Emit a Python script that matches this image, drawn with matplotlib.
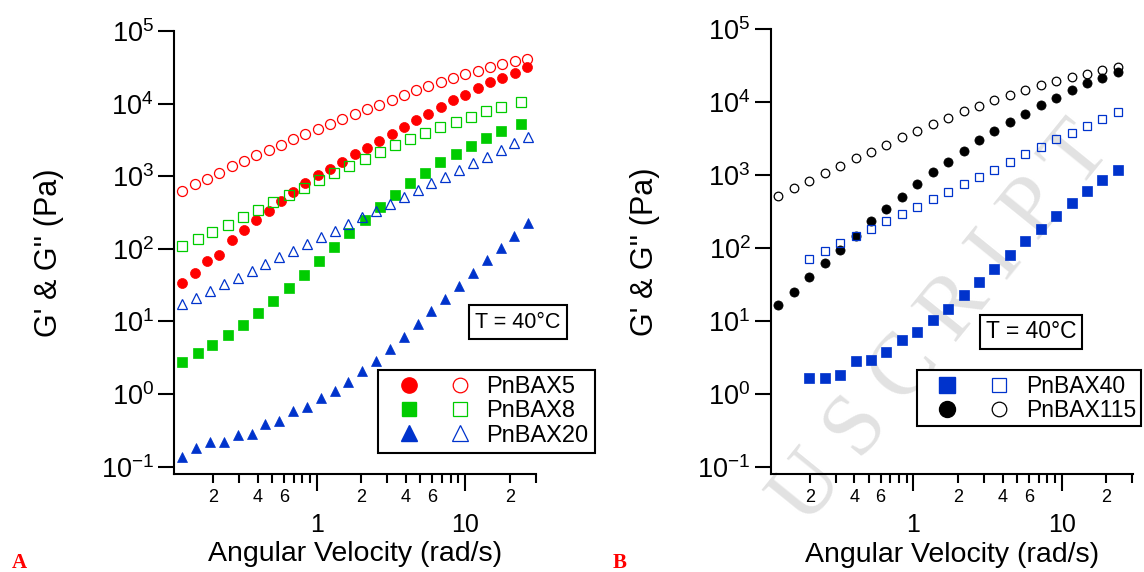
import matplotlib
matplotlib.use('Agg')
import matplotlib.pyplot as plt
from matplotlib.lines import Line2D
from matplotlib.legend_handler import HandlerTuple
from matplotlib.ticker import FixedLocator, FixedFormatter, NullLocator

# ---------------- data ----------------
# Panel A
w_bax5 = [0.124, 0.150, 0.182, 0.220, 0.267, 0.323, 0.391, 0.473, 0.573, 0.693,
          0.839, 1.016, 1.23, 1.49, 1.80, 2.18, 2.64, 3.20, 3.87, 4.69,
          5.67, 6.87, 8.31, 10.06, 12.18, 14.75, 17.85, 21.61, 26.16]
gp_bax5 = [33.7, 46.2, 69.0, 82.6, 133, 182, 251, 337, 458, 608,
           802, 1033, 1262, 1592, 2009, 2477, 3097, 3784, 4775, 5957,
           7278, 8995, 11120, 13300, 16260, 19680, 22800, 26730, 31990]
gpp_bax5 = [635, 776, 929, 1122, 1374, 1607, 1945, 2301, 2729, 3266,
            3864, 4529, 5200, 6152, 7129, 8531, 9683, 11220, 13150, 15420,
            17500, 19860, 22540, 25350, 28440, 31620, 34750, 38280, 41210]

w_bax8 = [0.124, 0.157, 0.198, 0.251, 0.318, 0.402, 0.509, 0.645, 0.816, 1.033,
          1.31, 1.66, 2.10, 2.65, 3.36, 4.25, 5.38, 6.81, 8.63, 10.93,
          13.83, 17.51, 23.71]
gp_bax8 = [2.76, 3.67, 4.78, 6.50, 9.02, 12.9, 19.1, 28.6, 43.6, 67.3,
           107, 163, 249, 377, 556, 798, 1117, 1552, 2042, 2630,
           3388, 4236, 5236]
gpp_bax8 = [108, 136, 171, 216, 273, 348, 439, 560, 698, 881,
            1112, 1403, 1750, 2138, 2673, 3266, 3945, 4775, 5649, 6622,
            7834, 9099, 10540]

w_bax20 = [0.124, 0.154, 0.191, 0.237, 0.293, 0.364, 0.451, 0.559, 0.693, 0.859,
           1.064, 1.318, 1.636, 2.028, 2.512, 3.116, 3.863, 4.786, 5.934, 7.357,
           9.12, 11.30, 14.02, 17.38, 21.54, 26.71]
gp_bax20 = [0.137, 0.180, 0.220, 0.220, 0.272, 0.281, 0.386, 0.429, 0.577, 0.656,
            0.873, 1.10, 1.46, 2.05, 2.88, 4.21, 6.15, 9.20, 13.8, 20.6,
            31.0, 46.5, 70.1, 104, 150, 224]
gpp_bax20 = [17.4, 21.0, 26.0, 32.4, 40.3, 49.8, 61.8, 76.4, 93.8, 117,
             144, 177, 220, 272, 335, 414, 522, 646, 798, 984,
             1216, 1507, 1858, 2296, 2838, 3436]

# Panel B
w_bax115 = [0.123, 0.156, 0.199, 0.252, 0.321, 0.407, 0.518, 0.658, 0.836, 1.062,
            1.349, 1.714, 2.178, 2.767, 3.516, 4.467, 5.675, 7.211, 9.162, 11.64,
            14.79, 18.79, 23.88]
gp_bax115 = [16.3, 25.3, 39.4, 61.9, 94.4, 147, 231, 344, 508, 759,
             1094, 1535, 2148, 3006, 4036, 5420, 6966, 9057, 11560, 14550,
             18160, 21730, 25700]
gpp_bax115 = [519, 661, 841, 1062, 1352, 1702, 2080, 2624, 3304, 4083,
              5035, 6152, 7516, 8892, 10740, 12560, 14720, 17060, 19540, 21980,
              24660, 27670, 30760]

w_bax40 = [0.199, 0.252, 0.321, 0.407, 0.518, 0.658, 0.836, 1.062,
           1.349, 1.714, 2.178, 2.767, 3.516, 4.467, 5.675, 7.211, 9.162, 11.64,
           14.79, 18.79, 23.88]
gp_bax40 = [1.63, 1.63, 1.81, 2.84, 2.93, 3.78, 5.40, 6.95, 10.4, 14.7,
            22.5, 34.0, 52.2, 79.6, 123, 185, 279, 420, 607, 867, 1191]
gpp_bax40 = [71.0, 91.4, 116, 147, 181, 231, 290, 370, 467, 594,
             759, 955, 1191, 1503, 1932, 2460, 3105, 3828, 4732, 5902, 7362]

x_major = [1, 10]
x_major_labels = ['1', '10']
x_minor = [0.2, 0.3, 0.4, 0.5, 0.6, 0.7, 0.8, 0.9, 2, 3, 4, 5, 6, 7, 8, 9, 20, 30]
x_minor_labels = ['2', '', '4', '', '6', '', '', '', '2', '', '4', '', '6', '', '', '', '2', '']
y_exponents = [-1, 0, 1, 2, 3, 4, 5]

RED = '#ff0000'
GREEN = '#00cc00'
BLUE = '#0033cc'
BLACK = '#000000'

# ---------------- figure ----------------
plt.rcParams['font.family'] = ['Liberation Sans', 'DejaVu Sans']
plt.rcParams['mathtext.default'] = 'regular'

W, H = 1144, 572
fig = plt.figure(figsize=(W / 100, H / 100), dpi=100)


def add_px_axes(l, r, t, b):
    return fig.add_axes([l / W, 1 - b / H, (r - l) / W, (b - t) / H])


def style_axes(ax):
    ax.set_xscale('log')
    ax.set_yscale('log')
    ax.set_xlim(0.109, 30.1)
    ax.set_ylim(10 ** -1.1, 1e5)
    ax.patch.set_alpha(0)
    for s in ['top', 'right']:
        ax.spines[s].set_visible(False)
    for s in ['left', 'bottom']:
        ax.spines[s].set_linewidth(1.5)
    ax.xaxis.set_major_locator(FixedLocator(x_major))
    ax.xaxis.set_major_formatter(FixedFormatter(x_major_labels))
    ax.xaxis.set_minor_locator(FixedLocator(x_minor))
    ax.xaxis.set_minor_formatter(FixedFormatter(x_minor_labels))
    ax.yaxis.set_major_locator(FixedLocator([10.0 ** e for e in y_exponents]))
    ax.yaxis.set_major_formatter(FixedFormatter(['$10^{%d}$' % e for e in y_exponents]))
    ax.yaxis.set_minor_locator(NullLocator())
    ax.tick_params(axis='x', which='major', direction='out', length=12, width=1.5,
                   labelsize=18, pad=16)
    ax.tick_params(axis='x', which='minor', direction='out', length=6.5, width=1.5,
                   labelsize=13, pad=4)
    ax.tick_params(axis='y', which='major', direction='out', length=11.5, width=1.5,
                   labelsize=19.5, pad=3)
    ax.set_xlabel('Angular Velocity (rad/s)', fontsize=20.5)
    ax.set_ylabel("G' & G'' (Pa)", fontsize=22)
    ax.xaxis.set_label_coords(0.5, -0.152)
    ax.yaxis.set_label_coords(-0.305, 0.5)


# watermark (behind the plots)
fig.text(942 / W, 1 - 325 / H, 'U S C R I P T', rotation=51, rotation_mode='anchor',
         ha='center', va='center', fontsize=63, family='Liberation Serif',
         color='#e2e2e2', zorder=-5)

# ---- Panel A ----
ax1 = add_px_axes(174, 536, 31, 474)
style_axes(ax1)
ax1.plot(w_bax5, gpp_bax5, 'o', ms=7.2, mfc='none', mec=RED, mew=0.9, ls='none')
ax1.plot(w_bax5, gp_bax5, 'o', ms=7.2, mfc=RED, mec=RED, mew=0.5, ls='none')
ax1.plot(w_bax8, gpp_bax8, 's', ms=6.6, mfc='none', mec=GREEN, mew=0.9, ls='none')
ax1.plot(w_bax8, gp_bax8, 's', ms=6.8, mfc=GREEN, mec=GREEN, mew=0.5, ls='none')
ax1.plot(w_bax20, gpp_bax20, '^', ms=7.6, mfc='none', mec=BLUE, mew=0.9, ls='none')
ax1.plot(w_bax20, gp_bax20, '^', ms=7.8, mfc=BLUE, mec=BLUE, mew=0.5, ls='none')

h_a = [
    (Line2D([], [], marker='o', ls='none', ms=11, mfc=RED, mec=RED),
     Line2D([], [], marker='o', ls='none', ms=10.5, mfc='none', mec=RED, mew=0.9)),
    (Line2D([], [], marker='s', ls='none', ms=10, mfc=GREEN, mec=GREEN),
     Line2D([], [], marker='s', ls='none', ms=10, mfc='none', mec=GREEN, mew=0.9)),
    (Line2D([], [], marker='^', ls='none', ms=11.5, mfc=BLUE, mec=BLUE),
     Line2D([], [], marker='^', ls='none', ms=11.5, mfc='none', mec=BLUE, mew=0.9)),
]
leg1 = fig.legend(h_a, ['PnBAX5', 'PnBAX8', 'PnBAX20'],
                  handler_map={tuple: HandlerTuple(ndivide=None, pad=0)},
                  loc='upper left', bbox_to_anchor=(378 / W, 1 - 370 / H),
                  bbox_transform=fig.transFigure, borderaxespad=0,
                  fontsize=17, handlelength=4.3, handletextpad=0.05,
                  borderpad=0.25, labelspacing=0.1, fancybox=False,
                  edgecolor='black', framealpha=1)
leg1.get_frame().set_linewidth(1.5)

ax1.text((518 - 174) / 362, (474 - 322) / 443, 'T = 40°C', transform=ax1.transAxes,
         ha='center', va='center', fontsize=15.5,
         bbox=dict(boxstyle='square,pad=0.3', fc='white', ec='black', lw=1.5))

# ---- Panel B ----
ax2 = add_px_axes(770.7, 1132.7, 29.3, 474)
style_axes(ax2)
ax2.plot(w_bax115, gpp_bax115, 'o', ms=6.2, mfc='none', mec=BLACK, mew=0.9, ls='none')
ax2.plot(w_bax115, gp_bax115, 'o', ms=6.6, mfc=BLACK, mec=BLACK, mew=0.5, ls='none')
ax2.plot(w_bax40, gp_bax40, 's', ms=6.6, mfc=BLUE, mec=BLUE, mew=0.5, ls='none')
ax2.plot(w_bax40, gpp_bax40, 's', ms=6.2, mfc='none', mec=BLUE, mew=0.9, ls='none')

h_b = [
    (Line2D([], [], marker='s', ls='none', ms=12, mfc=BLUE, mec=BLUE),
     Line2D([], [], marker='s', ls='none', ms=10.5, mfc='none', mec=BLUE, mew=0.9)),
    (Line2D([], [], marker='o', ls='none', ms=11.5, mfc=BLACK, mec=BLACK),
     Line2D([], [], marker='o', ls='none', ms=10.5, mfc='none', mec=BLACK, mew=0.9)),
]
leg2 = fig.legend(h_b, ['PnBAX40', 'PnBAX115'],
                  handler_map={tuple: HandlerTuple(ndivide=None, pad=0)},
                  loc='upper left', bbox_to_anchor=(917 / W, 1 - 370 / H),
                  bbox_transform=fig.transFigure, borderaxespad=0,
                  fontsize=16.5, handlelength=4.5, handletextpad=0.05,
                  borderpad=0.2, labelspacing=0.05, fancybox=False,
                  edgecolor='black', framealpha=1)
leg2.get_frame().set_linewidth(1.5)

ax2.text(0.7185, 0.3194, 'T = 40°C', transform=ax2.transAxes, ha='center', va='center',
         fontsize=16.5, bbox=dict(boxstyle='square,pad=0.25', fc='white', ec='black', lw=1.5))

# panel letters
fig.text(12 / W, 1 - 568 / H, 'A', color='red', family='Liberation Serif',
         fontweight='bold', fontsize=15, ha='left', va='baseline')
fig.text(613 / W, 1 - 568 / H, 'B', color='red', family='Liberation Serif',
         fontweight='bold', fontsize=15, ha='left', va='baseline')

fig.savefig('out.png', dpi=100)
